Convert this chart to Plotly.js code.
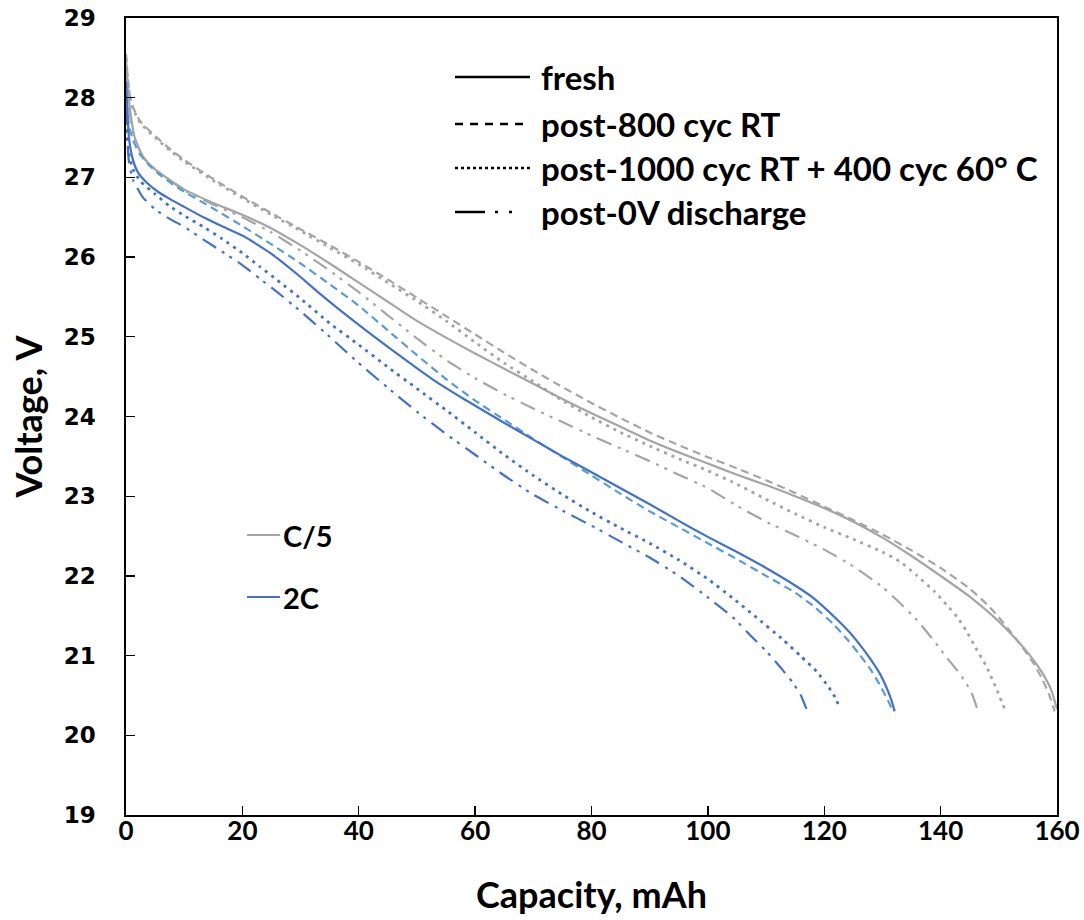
<!DOCTYPE html>
<html>
<head>
<meta charset="utf-8">
<script src="https://cdn.plot.ly/plotly-3.0.1.min.js"></script>
<style>
  html, body { margin: 0; padding: 0; background: #ffffff; }
  #chart { width: 1084px; height: 920px; }
</style>
</head>
<body>
<div id="chart"></div>
<script>
// ---------- data ----------
// C/5, fresh
const capC5Fresh = [0, 0.3, 0.7, 1.5, 3, 5, 10, 15, 20, 25, 30, 35, 40, 45, 50, 55, 60, 65, 70, 75, 80, 85, 90, 95, 100, 105, 110, 115, 120, 125, 130, 135, 140, 145, 150, 152, 154, 156, 157.5, 159, 160];
const voltC5Fresh = [28.5, 28.15, 27.85, 27.5, 27.25, 27.1, 26.85, 26.68, 26.53, 26.36, 26.15, 25.92, 25.68, 25.44, 25.2, 24.99, 24.79, 24.6, 24.41, 24.22, 24.04, 23.87, 23.7, 23.55, 23.41, 23.27, 23.14, 23.0, 22.85, 22.68, 22.48, 22.25, 22.0, 21.74, 21.43, 21.28, 21.12, 20.94, 20.78, 20.57, 20.33];
// C/5, post-800 cyc RT
const capC5Post800 = [0, 0.3, 0.7, 1.2, 2.5, 5, 7.5, 10, 15, 20, 25, 30, 35, 40, 45, 50, 55, 60, 65, 70, 75, 80, 85, 90, 95, 100, 105, 110, 115, 120, 125, 130, 135, 140, 145, 148, 150, 152, 154, 156, 157.5, 158.7, 159.6];
const voltC5Post800 = [28.55, 28.25, 28.02, 27.88, 27.7, 27.52, 27.36, 27.22, 26.98, 26.76, 26.55, 26.35, 26.15, 25.94, 25.72, 25.49, 25.26, 25.03, 24.8, 24.58, 24.37, 24.17, 23.98, 23.8, 23.64, 23.49, 23.35, 23.2, 23.04, 22.87, 22.7, 22.52, 22.32, 22.1, 21.84, 21.64, 21.48, 21.3, 21.11, 20.9, 20.7, 20.5, 20.3];
// C/5, post-1000 cyc RT + 400 cyc 60 C
const capC5Post1000 = [0, 0.3, 0.7, 1.2, 2.5, 5, 7.5, 10, 15, 20, 25, 30, 35, 40, 45, 50, 55, 60, 65, 70, 75, 80, 85, 90, 95, 100, 105, 110, 115, 120, 125, 130, 133, 136, 139, 141, 143, 144.5, 146, 147.9, 149.5, 151];
const voltC5Post1000 = [28.5, 28.2, 28.0, 27.86, 27.68, 27.5, 27.34, 27.2, 26.96, 26.74, 26.53, 26.33, 26.12, 25.91, 25.68, 25.45, 25.2, 24.93, 24.67, 24.44, 24.2, 23.99, 23.8, 23.63, 23.47, 23.32, 23.15, 22.96, 22.78, 22.61, 22.46, 22.3, 22.18, 22.0, 21.8, 21.64, 21.47, 21.3, 21.1, 20.86, 20.6, 20.33];
// C/5, post-0V discharge
const capC5Post0V = [0, 0.3, 0.7, 1.5, 3, 5, 10, 15, 20, 25, 30, 35, 40, 45, 50, 55, 60, 65, 70, 75, 80, 85, 90, 95, 100, 105, 110, 115, 120, 125, 130, 133, 136, 138.7, 141, 143, 144.5, 145.5, 146.3];
const voltC5Post0V = [28.4, 28.05, 27.78, 27.47, 27.25, 27.1, 26.84, 26.66, 26.5, 26.31, 26.08, 25.83, 25.56, 25.27, 24.98, 24.71, 24.48, 24.28, 24.1, 23.93, 23.76, 23.6, 23.44, 23.27, 23.1, 22.88, 22.68, 22.51, 22.33, 22.12, 21.86, 21.66, 21.44, 21.2, 20.98, 20.8, 20.64, 20.5, 20.33];
// 2C, fresh
const cap2CFresh = [0, 0.2, 0.5, 1.2, 2, 3.5, 5.5, 7.5, 10, 13.3, 17, 20, 22.5, 25, 27.5, 30, 33, 36.5, 41.4, 47.1, 52.8, 58.5, 64.3, 70, 75, 80, 85, 90, 95, 100, 105, 110, 115, 118, 120.5, 122.5, 124.5, 126.5, 128, 129.5, 130.7, 131.5, 132.1];
const volt2CFresh = [28.2, 27.9, 27.5, 27.22, 27.07, 26.94, 26.82, 26.73, 26.63, 26.5, 26.37, 26.27, 26.16, 26.04, 25.9, 25.75, 25.56, 25.35, 25.07, 24.76, 24.46, 24.2, 23.95, 23.71, 23.5, 23.3, 23.1, 22.9, 22.69, 22.49, 22.3, 22.1, 21.88, 21.73, 21.57, 21.43, 21.28, 21.1, 20.95, 20.78, 20.6, 20.45, 20.3];
// 2C, post-800 cyc RT
const cap2CPost800 = [0, 0.2, 0.5, 1.2, 2.3, 3.6, 5.5, 7.5, 10, 15, 20, 25, 30, 35, 40, 45, 50, 55, 60, 65, 70, 75, 80, 85, 90, 95, 100, 105, 110, 115, 118.5, 121.5, 124, 126, 128, 129.5, 130.8, 131.8];
const volt2CPost800 = [28.1, 27.85, 27.65, 27.47, 27.3, 27.18, 27.05, 26.94, 26.82, 26.61, 26.39, 26.16, 25.92, 25.66, 25.39, 25.08, 24.77, 24.47, 24.2, 23.96, 23.72, 23.49, 23.26, 23.03, 22.81, 22.61, 22.41, 22.21, 22.0, 21.79, 21.6, 21.4, 21.2, 21.02, 20.82, 20.64, 20.46, 20.3];
// 2C, post-1000 cyc RT + 400 cyc 60 C
const cap2CPost1000 = [0, 0.2, 0.5, 1.2, 2.5, 5, 7.5, 10, 13.3, 16.5, 20, 23, 26, 30, 35, 40, 45, 50, 55, 60, 65, 70, 75, 80, 85, 90, 95, 100, 104.3, 108, 112.9, 116, 118.7, 120.8, 122, 122.7];
const volt2CPost1000 = [28.0, 27.6, 27.3, 27.1, 26.95, 26.79, 26.64, 26.52, 26.38, 26.23, 26.05, 25.88, 25.71, 25.48, 25.17, 24.9, 24.62, 24.35, 24.08, 23.8, 23.52, 23.26, 23.02, 22.8, 22.6, 22.41, 22.2, 21.96, 21.72, 21.5, 21.2, 20.99, 20.8, 20.6, 20.46, 20.33];
// 2C, post-0V discharge
const cap2CPost0V = [0, 0.2, 0.5, 1.2, 2.9, 5, 7.5, 10, 13.3, 16.5, 20, 23, 26, 30, 35, 40, 45, 50, 55, 60, 65, 70, 75, 80, 85, 90, 95, 100, 104.3, 107.5, 110.1, 112.5, 114.6, 116, 117];
const volt2CPost0V = [27.9, 27.5, 27.2, 26.97, 26.75, 26.6, 26.48, 26.38, 26.22, 26.07, 25.9, 25.73, 25.56, 25.32, 25.0, 24.67, 24.36, 24.06, 23.78, 23.52, 23.26, 23.02, 22.82, 22.63, 22.43, 22.23, 22.0, 21.73, 21.48, 21.24, 21.05, 20.85, 20.66, 20.5, 20.32];

const conditionLabels = ['fresh', 'post-800 cyc RT', 'post-1000 cyc RT + 400 cyc 60° C', 'post-0V discharge'];
const rateLabels = ['C/5', '2C'];
const xTickVals = [0, 20, 40, 60, 80, 100, 120, 140, 160];
const yTickVals = [19, 20, 21, 22, 23, 24, 25, 26, 27, 28, 29];

// ---------- styles ----------
const GRAY = '#A5A5A5', BLUE = '#4472C4', LIGHTBLUE = '#5B9BD5';
const DASH = '8px,5px';
const DOT = '3px,5px';
const DASHDOTDOT = '16px,7px,3px,6px,3px,7px';
const FONT = 'Lato, "Open Sans", sans-serif';
const YFONT = '"DejaVu Sans", Verdana, sans-serif';

function tr(x, y, name, color, dash, width) {
  return { x: x, y: y, name: name, type: 'scatter', mode: 'lines',
           line: { color: color, width: width || 2, dash: dash, shape: 'spline', smoothing: 0.5 },
           hoverinfo: 'x+y+name', showlegend: false };
}

const traces = [
  tr(capC5Post0V, voltC5Post0V, 'C/5 ' + conditionLabels[3], GRAY, DASHDOTDOT, 2.2),
  tr(capC5Post1000, voltC5Post1000, 'C/5 ' + conditionLabels[2], GRAY, DOT, 2.8),
  tr(capC5Post800, voltC5Post800, 'C/5 ' + conditionLabels[1], GRAY, DASH, 2.2),
  tr(capC5Fresh, voltC5Fresh, 'C/5 ' + conditionLabels[0], GRAY, 'solid', 2.2),
  tr(cap2CPost0V, volt2CPost0V, '2C ' + conditionLabels[3], BLUE, DASHDOTDOT, 2.2),
  tr(cap2CPost1000, volt2CPost1000, '2C ' + conditionLabels[2], BLUE, DOT, 2.8),
  tr(cap2CPost800, volt2CPost800, '2C ' + conditionLabels[1], LIGHTBLUE, DASH, 2.2),
  tr(cap2CFresh, volt2CFresh, '2C ' + conditionLabels[0], BLUE, 'solid', 2.2)
];

// ---------- legend drawn as shapes + annotations (paper coords) ----------
const styleRowsY = [0.926, 0.867, 0.8118, 0.7566];
const styleDashes = ['solid', '8px,7px', '3px,3px', '30px,10px,3px,11px,3px,30px'];
const shapes = [];
const annotations = [];
for (let i = 0; i < conditionLabels.length; i++) {
  shapes.push({ type: 'line', xref: 'paper', yref: 'paper', x0: 0.3534, x1: 0.4339,
                y0: styleRowsY[i], y1: styleRowsY[i], line: { color: '#000000', width: 2.6, dash: styleDashes[i] } });
  annotations.push({ xref: 'paper', yref: 'paper', x: 0.4436, y: styleRowsY[i], xanchor: 'left', yanchor: 'middle',
                     showarrow: false, text: conditionLabels[i],
                     font: { family: FONT, size: 33, color: '#000000', weight: 'bold' } });
}
const rateRowsY = [0.3513, 0.2735];
const rateColors = [GRAY, BLUE];
for (let i = 0; i < rateLabels.length; i++) {
  shapes.push({ type: 'line', xref: 'paper', yref: 'paper', x0: 0.130, x1: 0.1654,
                y0: rateRowsY[i], y1: rateRowsY[i], line: { color: rateColors[i], width: 2 } });
  annotations.push({ xref: 'paper', yref: 'paper', x: 0.1665, y: rateRowsY[i], xanchor: 'left', yanchor: 'middle',
                     showarrow: false, text: rateLabels[i],
                     font: { family: FONT, size: 29, color: '#000000', weight: 'bold' } });
}

const layout = {
  width: 1084, height: 920,
  margin: { l: 126, r: 27, t: 18, b: 105 },
  paper_bgcolor: '#ffffff', plot_bgcolor: '#ffffff',
  showlegend: false,
  xaxis: {
    range: [0, 160], tickvals: xTickVals, ticktext: xTickVals.map(String),
    ticks: 'inside', ticklen: 9, tickwidth: 1.3, tickcolor: '#000000',
    showline: true, linecolor: '#000000', linewidth: 1.6, mirror: true,
    showgrid: false, zeroline: false, ticklabelstandoff: -8,
    tickfont: { family: FONT, size: 26, color: '#000000', weight: 'bold' },
    title: { text: 'Capacity, mAh', standoff: 38, font: { family: FONT, size: 36, color: '#000000', weight: 'bold' } },
    automargin: false
  },
  yaxis: {
    range: [19, 29], tickvals: yTickVals, ticktext: yTickVals.map(String),
    ticks: 'inside', ticklen: 9, tickwidth: 1.3, tickcolor: '#000000',
    showline: true, linecolor: '#000000', linewidth: 1.6, mirror: true,
    showgrid: false, zeroline: false, ticklabelstandoff: 24,
    tickfont: { family: YFONT, size: 23, color: '#000000', weight: 'bold' },
    title: { text: 'Voltage, V', standoff: 10, font: { family: FONT, size: 36, color: '#000000', weight: 'bold' } },
    automargin: false
  },
  shapes: shapes,
  annotations: annotations
};

Plotly.newPlot('chart', traces, layout, { staticPlot: true, displayModeBar: false });
</script>
</body>
</html>
